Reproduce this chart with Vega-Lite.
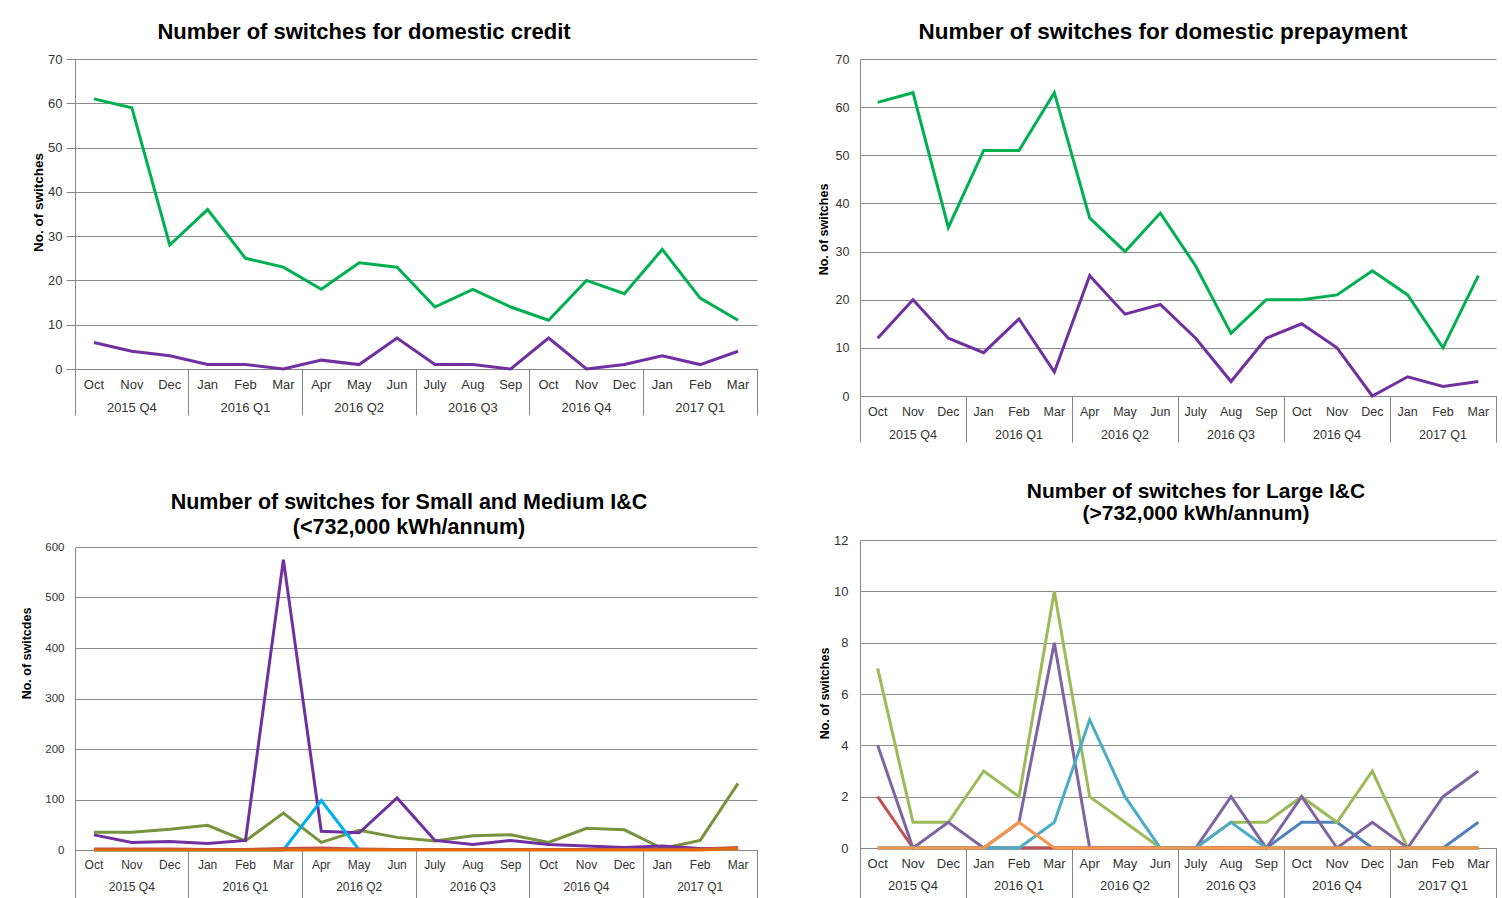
{
  "$schema": "https://vega.github.io/schema/vega-lite/v6.json",
  "background": "white",
  "padding": {"left": 20, "top": 20, "right": 0, "bottom": 0},
  "datasets": {
    "credit": [
      {"i": 0, "green": 61, "purple": 6}, {"i": 1, "green": 59, "purple": 4}, {"i": 2, "green": 28, "purple": 3},
      {"i": 3, "green": 36, "purple": 1}, {"i": 4, "green": 25, "purple": 1}, {"i": 5, "green": 23, "purple": 0},
      {"i": 6, "green": 18, "purple": 2}, {"i": 7, "green": 24, "purple": 1}, {"i": 8, "green": 23, "purple": 7},
      {"i": 9, "green": 14, "purple": 1}, {"i": 10, "green": 18, "purple": 1}, {"i": 11, "green": 14, "purple": 0},
      {"i": 12, "green": 11, "purple": 7}, {"i": 13, "green": 20, "purple": 0}, {"i": 14, "green": 17, "purple": 1},
      {"i": 15, "green": 27, "purple": 3}, {"i": 16, "green": 16, "purple": 1}, {"i": 17, "green": 11, "purple": 4}
    ],
    "prepay": [
      {"i": 0, "green": 61, "purple": 12}, {"i": 1, "green": 63, "purple": 20}, {"i": 2, "green": 35, "purple": 12},
      {"i": 3, "green": 51, "purple": 9}, {"i": 4, "green": 51, "purple": 16}, {"i": 5, "green": 63, "purple": 5},
      {"i": 6, "green": 37, "purple": 25}, {"i": 7, "green": 30, "purple": 17}, {"i": 8, "green": 38, "purple": 19},
      {"i": 9, "green": 27, "purple": 12}, {"i": 10, "green": 13, "purple": 3}, {"i": 11, "green": 20, "purple": 12},
      {"i": 12, "green": 20, "purple": 15}, {"i": 13, "green": 21, "purple": 10}, {"i": 14, "green": 26, "purple": 0},
      {"i": 15, "green": 21, "purple": 4}, {"i": 16, "green": 10, "purple": 2}, {"i": 17, "green": 25, "purple": 3}
    ],
    "sme": [
      {"i": 0, "green": 35, "purple": 30, "cyan": 0, "red": 2, "orange": 0},
      {"i": 1, "green": 35, "purple": 15, "cyan": 0, "red": 2, "orange": 0},
      {"i": 2, "green": 41, "purple": 17, "cyan": 0, "red": 2, "orange": 0},
      {"i": 3, "green": 49, "purple": 13, "cyan": 0, "red": 1, "orange": 0},
      {"i": 4, "green": 18, "purple": 19, "cyan": 0, "red": 1, "orange": 0},
      {"i": 5, "green": 73, "purple": 575, "cyan": 0, "red": 3, "orange": 0},
      {"i": 6, "green": 15, "purple": 37, "cyan": 98, "red": 4, "orange": 0},
      {"i": 7, "green": 39, "purple": 34, "cyan": 0, "red": 2, "orange": 0},
      {"i": 8, "green": 25, "purple": 103, "cyan": null, "red": 1, "orange": 0},
      {"i": 9, "green": 18, "purple": 19, "cyan": null, "red": 1, "orange": 0},
      {"i": 10, "green": 28, "purple": 11, "cyan": null, "red": 1, "orange": 0},
      {"i": 11, "green": 30, "purple": 19, "cyan": null, "red": 1, "orange": 0},
      {"i": 12, "green": 15, "purple": 11, "cyan": null, "red": 1, "orange": 0},
      {"i": 13, "green": 43, "purple": 8, "cyan": null, "red": 1, "orange": 0},
      {"i": 14, "green": 40, "purple": 5, "cyan": null, "red": 1, "orange": 0},
      {"i": 15, "green": 3, "purple": 8, "cyan": null, "red": 1, "orange": 0},
      {"i": 16, "green": 19, "purple": 3, "cyan": null, "red": 2, "orange": 0},
      {"i": 17, "green": 132, "purple": 3, "cyan": null, "red": 5, "orange": 3}
    ],
    "large": [
      {"i": 0, "b": 0, "r": 2, "g": 7, "p": 4, "t": 0, "o": 0},
      {"i": 1, "b": 0, "r": 0, "g": 1, "p": 0, "t": 0, "o": 0},
      {"i": 2, "b": 0, "r": 0, "g": 1, "p": 1, "t": 0, "o": 0},
      {"i": 3, "b": 0, "r": 0, "g": 3, "p": 0, "t": 0, "o": 0},
      {"i": 4, "b": 0, "r": 0, "g": 2, "p": 1, "t": 0, "o": 1},
      {"i": 5, "b": 0, "r": 0, "g": 10, "p": 8, "t": 1, "o": 0},
      {"i": 6, "b": 0, "r": 0, "g": 2, "p": 0, "t": 5, "o": 0},
      {"i": 7, "b": 0, "r": 0, "g": 1, "p": 0, "t": 2, "o": 0},
      {"i": 8, "b": 0, "r": 0, "g": 0, "p": 0, "t": 0, "o": 0},
      {"i": 9, "b": 0, "r": 0, "g": 0, "p": 0, "t": 0, "o": 0},
      {"i": 10, "b": 0, "r": 0, "g": 1, "p": 2, "t": 1, "o": 0},
      {"i": 11, "b": 0, "r": 0, "g": 1, "p": 0, "t": 0, "o": 0},
      {"i": 12, "b": 1, "r": 0, "g": 2, "p": 2, "t": 0, "o": 0},
      {"i": 13, "b": 1, "r": 0, "g": 1, "p": 0, "t": 0, "o": 0},
      {"i": 14, "b": 0, "r": 0, "g": 3, "p": 1, "t": 0, "o": 0},
      {"i": 15, "b": 0, "r": 0, "g": 0, "p": 0, "t": 0, "o": 0},
      {"i": 16, "b": 0, "r": 0, "g": 0, "p": 2, "t": 0, "o": 0},
      {"i": 17, "b": 1, "r": 0, "g": 0, "p": 3, "t": 0, "o": 0}
    ]
  },
  "spacing": 59,
  "resolve": {"scale": {"x": "independent", "y": "independent", "color": "independent"}},
  "hconcat": [
    {
      "vconcat": [
        {
          "width": 682,
          "height": 310,
          "title": {"text": "Number of switches for domestic credit", "fontSize": 22, "dx": -52, "offset": 9.5},
          "data": {"name": "credit"},
          "transform": [{"fold": ["green", "purple"], "as": ["series", "value"]}],
          "mark": {"type": "line", "strokeWidth": 3},
          "encoding": {
            "x": {
              "field": "i", "type": "ordinal",
              "scale": {"type": "band", "paddingInner": 0, "paddingOuter": 0},
              "axis": {
                "values": [0,1,2,3,4,5,6,7,8,9,10,11,12,13,14,15,16,17],
                "labelExpr": "isValid(datum.value) ? [['Oct','Nov','Dec','Jan','Feb','Mar','Apr','May','Jun','July','Aug','Sep','Oct','Nov','Dec','Jan','Feb','Mar'][datum.value], datum.value % 3 == 1 ? ['2015 Q4','2016 Q1','2016 Q2','2016 Q3','2016 Q4','2017 Q1'][floor(datum.value / 3)] : ''] : ''",
                "tickOpacity": {"condition": {"test": "!isValid(datum.value) || datum.value % 3 == 2", "value": 1}, "value": 0},
                "tickSize": 46, "labelPadding": -37, "labelFontSize": 13, "labelLineHeight": 23
              }
            },
            "y": {
              "field": "value", "type": "quantitative",
              "scale": {"domain": [0, 70], "nice": false},
              "axis": {"values": [0,10,20,30,40,50,60,70], "title": "No. of switches", "ticks": true, "tickSize": 9, "labelPadding": 4, "labelFontSize": 13, "titleFontSize": 13.5, "titleX": -37, "titleY": 143}
            },
            "color": {"field": "series", "type": "nominal", "scale": {"domain": ["green", "purple"], "range": ["#00B050", "#7030A0"]}, "legend": null}
          }
        },
        {
          "width": 682,
          "height": 303,
          "title": {"text": ["Number of switches for Small and Medium I&C", "(<732,000 kWh/annum)"], "fontSize": 21.5, "lineHeight": 25, "dx": -7, "offset": 3},
          "data": {"name": "sme"},
          "transform": [{"fold": ["green", "purple", "cyan", "red", "orange"], "as": ["series", "value"]}],
          "mark": {"type": "line", "strokeWidth": 3},
          "encoding": {
            "x": {
              "field": "i", "type": "ordinal",
              "scale": {"type": "band", "paddingInner": 0, "paddingOuter": 0},
              "axis": {
                "values": [0,1,2,3,4,5,6,7,8,9,10,11,12,13,14,15,16,17],
                "labelExpr": "isValid(datum.value) ? [['Oct','Nov','Dec','Jan','Feb','Mar','Apr','May','Jun','July','Aug','Sep','Oct','Nov','Dec','Jan','Feb','Mar'][datum.value], datum.value % 3 == 1 ? ['2015 Q4','2016 Q1','2016 Q2','2016 Q3','2016 Q4','2017 Q1'][floor(datum.value / 3)] : ''] : ''",
                "tickOpacity": {"condition": {"test": "!isValid(datum.value) || datum.value % 3 == 2", "value": 1}, "value": 0},
                "tickSize": 48, "labelPadding": -39, "labelFontSize": 12, "labelLineHeight": 22
              }
            },
            "y": {
              "field": "value", "type": "quantitative",
              "scale": {"domain": [0, 600], "nice": false},
              "axis": {"values": [0,100,200,300,400,500,600], "title": "No. of switcdes", "ticks": false, "labelPadding": 11, "labelFontSize": 11.5, "titleFontSize": 12.5, "titleX": -49, "titleY": 106}
            },
            "color": {"field": "series", "type": "nominal", "scale": {"domain": ["green", "purple", "cyan", "red", "orange"], "range": ["#77933C", "#7030A0", "#00B0F0", "#C0504D", "#E46C0A"]}, "legend": null}
          }
        }
      ],
      "spacing": 178,
      "bounds": "flush",
      "resolve": {"scale": {"x": "independent", "y": "independent", "color": "independent"}}
    },
    {
      "vconcat": [
        {
          "width": 636,
          "height": 337,
          "title": {"text": "Number of switches for domestic prepayment", "fontSize": 22.5, "dx": -15, "offset": 9.5},
          "data": {"name": "prepay"},
          "transform": [{"fold": ["green", "purple"], "as": ["series", "value"]}],
          "mark": {"type": "line", "strokeWidth": 3},
          "encoding": {
            "x": {
              "field": "i", "type": "ordinal",
              "scale": {"type": "band", "paddingInner": 0, "paddingOuter": 0},
              "axis": {
                "values": [0,1,2,3,4,5,6,7,8,9,10,11,12,13,14,15,16,17],
                "labelExpr": "isValid(datum.value) ? [['Oct','Nov','Dec','Jan','Feb','Mar','Apr','May','Jun','July','Aug','Sep','Oct','Nov','Dec','Jan','Feb','Mar'][datum.value], datum.value % 3 == 1 ? ['2015 Q4','2016 Q1','2016 Q2','2016 Q3','2016 Q4','2017 Q1'][floor(datum.value / 3)] : ''] : ''",
                "tickOpacity": {"condition": {"test": "!isValid(datum.value) || datum.value % 3 == 2", "value": 1}, "value": 0},
                "tickSize": 46, "labelPadding": -37, "labelFontSize": 12.5, "labelLineHeight": 23
              }
            },
            "y": {
              "field": "value", "type": "quantitative",
              "scale": {"domain": [0, 70], "nice": false},
              "axis": {"values": [0,10,20,30,40,50,60,70], "title": "No. of switches", "ticks": false, "labelPadding": 11, "labelFontSize": 12.5, "titleFontSize": 12.5, "titleX": -37, "titleY": 170}
            },
            "color": {"field": "series", "type": "nominal", "scale": {"domain": ["green", "purple"], "range": ["#00B050", "#7030A0"]}, "legend": null}
          }
        },
        {
          "width": 636,
          "height": 308,
          "title": {"text": ["Number of switches for Large I&C", "(>732,000 kWh/annum)"], "fontSize": 21, "lineHeight": 22, "dx": 18, "offset": 10},
          "data": {"name": "large"},
          "transform": [{"fold": ["b", "r", "g", "p", "t", "o"], "as": ["series", "value"]}],
          "mark": {"type": "line", "strokeWidth": 3},
          "encoding": {
            "x": {
              "field": "i", "type": "ordinal",
              "scale": {"type": "band", "paddingInner": 0, "paddingOuter": 0},
              "axis": {
                "values": [0,1,2,3,4,5,6,7,8,9,10,11,12,13,14,15,16,17],
                "labelExpr": "isValid(datum.value) ? [['Oct','Nov','Dec','Jan','Feb','Mar','Apr','May','Jun','July','Aug','Sep','Oct','Nov','Dec','Jan','Feb','Mar'][datum.value], datum.value % 3 == 1 ? ['2015 Q4','2016 Q1','2016 Q2','2016 Q3','2016 Q4','2017 Q1'][floor(datum.value / 3)] : ''] : ''",
                "tickOpacity": {"condition": {"test": "!isValid(datum.value) || datum.value % 3 == 2", "value": 1}, "value": 0},
                "tickSize": 50, "labelPadding": -41, "labelFontSize": 13, "labelLineHeight": 22
              }
            },
            "y": {
              "field": "value", "type": "quantitative",
              "scale": {"domain": [0, 12], "nice": false},
              "axis": {"values": [0,2,4,6,8,10,12], "title": "No. of switches", "ticks": false, "labelPadding": 12, "labelFontSize": 13, "titleFontSize": 12.5, "titleX": -36, "titleY": 153}
            },
            "color": {"field": "series", "type": "nominal", "scale": {"domain": ["b", "r", "g", "p", "t", "o"], "range": ["#4F81BD", "#C0504D", "#9BBB59", "#8064A2", "#4BACC6", "#F79646"]}, "legend": null}
          }
        }
      ],
      "spacing": 144,
      "bounds": "flush",
      "resolve": {"scale": {"x": "independent", "y": "independent", "color": "independent"}}
    }
  ],
  "config": {
    "view": {"stroke": null},
    "font": "Liberation Sans",
    "title": {"font": "Liberation Sans", "fontWeight": "bold", "color": "#000000", "anchor": "middle", "frame": "group"},
    "axis": {
      "labelFont": "Liberation Sans", "titleFont": "Liberation Sans", "labelColor": "#333333", "titleColor": "#000000",
      "titleFontWeight": "bold", "domainColor": "#868686", "tickColor": "#868686", "gridColor": "#8c8c8c", "zindex": 0
    },
    "axisX": {"grid": false, "title": null, "labelAngle": 0, "labelOverlap": false, "labelBound": false, "labelFlush": false, "bandPosition": 1, "tickExtra": true, "labelBaseline": "top"},
    "axisY": {"grid": true, "titleAngle": 270, "titleAlign": "center", "titleBaseline": "middle", "labelBaseline": "middle"}
  }
}
